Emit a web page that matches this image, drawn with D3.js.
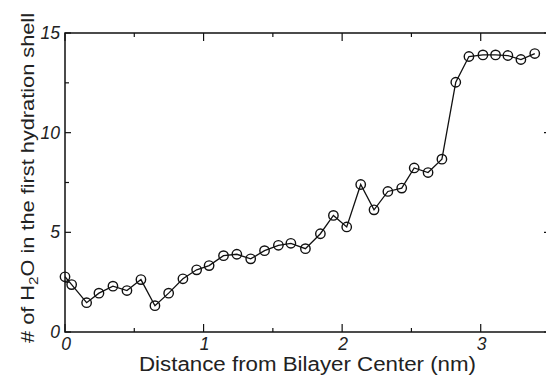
<!DOCTYPE html>
<html>
<head>
<meta charset="utf-8">
<script src="https://cdn.jsdelivr.net/npm/d3@7"></script>
<style>
  html, body { margin: 0; padding: 0; background: #fff; }
  svg { display: block; }
</style>
</head>
<body>
<svg id="chart" width="546" height="376"></svg>
<script>
// Distance from bilayer center (nm)
const distance = [0, 0.048, 0.156, 0.245, 0.346, 0.447, 0.548, 0.649, 0.748, 0.851,
    0.95, 1.04, 1.144, 1.24, 1.34, 1.44, 1.54, 1.63, 1.735, 1.843,
    1.937, 2.033, 2.134, 2.23, 2.33, 2.43, 2.52, 2.62, 2.72, 2.82,
    2.915, 3.016, 3.107, 3.196, 3.29, 3.39];
// Number of waters in the first hydration shell
const waters = [2.77, 2.38, 1.47, 1.95, 2.3, 2.08, 2.63, 1.32, 1.95, 2.67,
    3.12, 3.33, 3.83, 3.9, 3.67, 4.08, 4.35, 4.45, 4.18, 4.93,
    5.85, 5.27, 7.4, 6.13, 7.05, 7.22, 8.23, 8.0, 8.67, 12.53,
    13.82, 13.9, 13.9, 13.87, 13.67, 13.97];

const xTicks = [0, 0.5, 1, 1.5, 2, 2.5, 3];
const xLabels = [0, 1, 2, 3];
const yTicks = [0, 2.5, 5, 7.5, 10, 12.5, 15];
const yLabels = [0, 5, 10, 15];

const margin = { left: 65, right: -4, top: 33, bottom: 44 };
const width = 546, height = 376;

const svg = d3.select('#chart');
const x = d3.scaleLinear().domain([0, 3.5]).range([margin.left, width - margin.right]);
const y = d3.scaleLinear().domain([0, 15]).range([height - margin.bottom, margin.top]);

const ink = '#111';
const textCol = '#222';

// frame
svg.append('rect')
    .attr('x', x(0)).attr('y', y(15))
    .attr('width', x(3.5) - x(0)).attr('height', y(0) - y(15))
    .attr('fill', 'none').attr('stroke', ink).attr('stroke-width', 1.5);

// ticks (inward), major at labelled values
const isMajorX = v => Number.isInteger(v);
const isMajorY = v => v % 5 === 0;

const tickG = svg.append('g').attr('stroke', ink).attr('stroke-width', 1.2);
xTicks.forEach(v => {
    const len = isMajorX(v) ? 8 : 4;
    tickG.append('line').attr('x1', x(v)).attr('x2', x(v)).attr('y1', y(0)).attr('y2', y(0) - len);
    tickG.append('line').attr('x1', x(v)).attr('x2', x(v)).attr('y1', y(15)).attr('y2', y(15) + len);
});
yTicks.forEach(v => {
    const len = isMajorY(v) ? 6 : 4;
    tickG.append('line').attr('x1', x(0)).attr('x2', x(0) + len).attr('y1', y(v)).attr('y2', y(v));
    tickG.append('line').attr('x1', x(3.5)).attr('x2', x(3.5) - len).attr('y1', y(v)).attr('y2', y(v));
});

// tick labels
const labelFont = "'Liberation Sans', Arial, Helvetica, sans-serif";
svg.append('g').selectAll('text')
    .data(xLabels).join('text')
    .attr('x', d => x(d) + 1)
    .attr('y', 350)
    .attr('text-anchor', 'middle')
    .attr('font-family', labelFont).attr('font-size', 17.5)
    .attr('font-style', 'italic').attr('fill', textCol)
    .text(d => d);

svg.append('g').selectAll('text')
    .data(yLabels).join('text')
    .attr('x', 60)
    .attr('y', d => y(d) + 6)
    .attr('text-anchor', 'end')
    .attr('font-family', labelFont).attr('font-size', 17.5)
    .attr('font-style', 'italic').attr('fill', textCol)
    .text(d => d);

// axis titles
svg.append('text')
    .attr('x', (x(0) + x(3.5)) / 2)
    .attr('y', 371)
    .attr('text-anchor', 'middle')
    .attr('font-family', labelFont).attr('font-size', 19.5)
    .attr('fill', textCol)
    .attr('textLength', 337).attr('lengthAdjust', 'spacingAndGlyphs')
    .text('Distance from Bilayer Center (nm)');

const yTitle = svg.append('text')
    .attr('transform', 'translate(33.5,178) rotate(-90)')
    .attr('text-anchor', 'middle')
    .attr('font-family', labelFont).attr('font-size', 18.5)
    .attr('fill', textCol)
    .attr('textLength', 330).attr('lengthAdjust', 'spacingAndGlyphs');
yTitle.append('tspan').text('# of H');
yTitle.append('tspan').attr('font-size', 13).attr('dy', 4).text('2');
yTitle.append('tspan').attr('dy', -4).text('O in the first hydration shell');

// data line and markers
const pts = distance.map((d, i) => [d, waters[i]]);
svg.append('path')
    .datum(pts)
    .attr('fill', 'none')
    .attr('stroke', ink)
    .attr('stroke-width', 1.3)
    .attr('d', d3.line().x(d => x(d[0])).y(d => y(d[1])));

svg.append('g').selectAll('circle')
    .data(pts).join('circle')
    .attr('cx', d => x(d[0]))
    .attr('cy', d => y(d[1]))
    .attr('r', 4.7)
    .attr('fill', 'none')
    .attr('stroke', ink)
    .attr('stroke-width', 1.4);
</script>
</body>
</html>
